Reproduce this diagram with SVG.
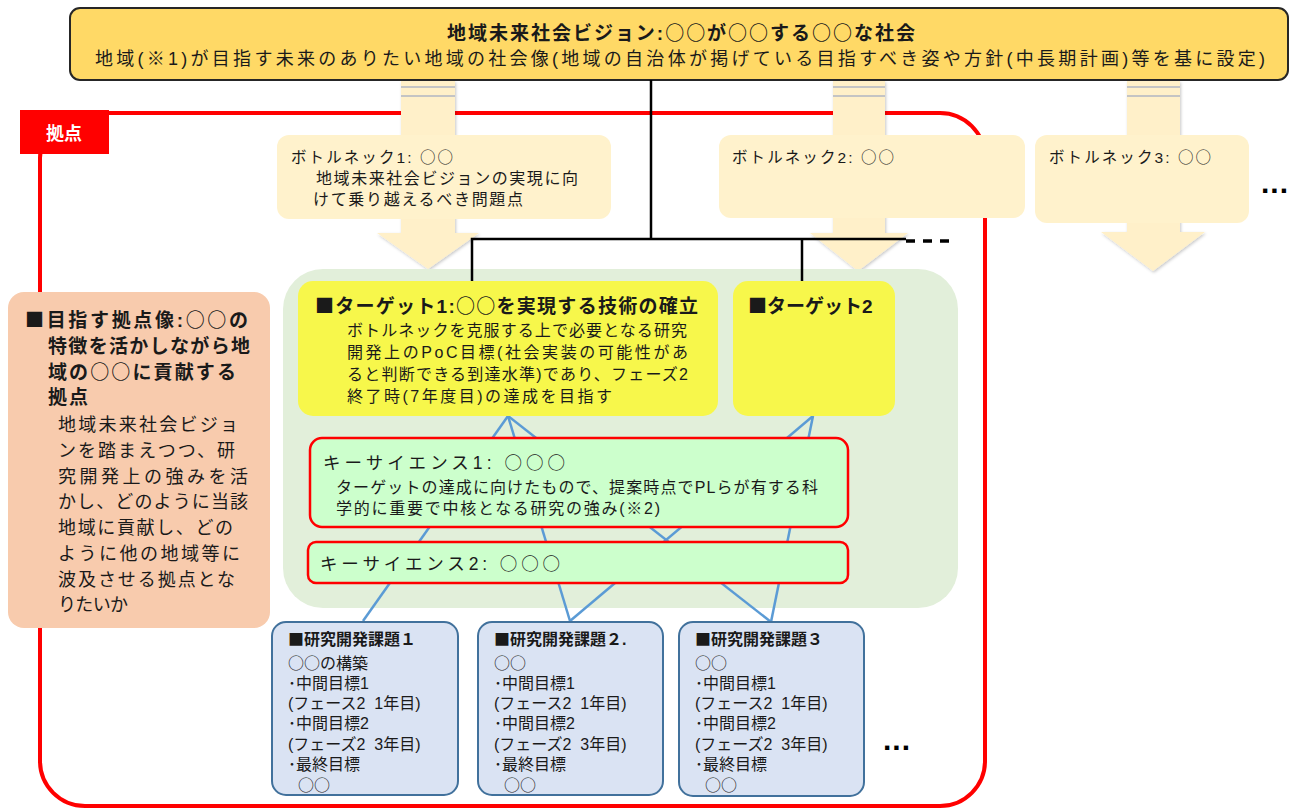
<svg xmlns="http://www.w3.org/2000/svg" width="1295" height="809" viewBox="0 0 1295 809">
<defs>
<style>
.t{font-family:"Liberation Sans","Noto Sans CJK JP",sans-serif;fill:#1a1a1a}
.b{font-weight:bold}
.cj{font-family:"Noto Sans CJK JP",sans-serif}
.arrow{fill:#fff0c9;filter:url(#sh)}
.stripe{stroke:#c4c4c4;stroke-width:2}
.bn{fill:#fff2cc}
.blk{stroke:#000;stroke-width:2.5;fill:none}
.blue{stroke:#5b9bd5;stroke-width:2.5;fill:none}
.ks{fill:#ccffcc;stroke:#ff0000;stroke-width:2.5}
.rd{fill:#dae3f3;stroke:#41719c;stroke-width:2}
.rt{font-family:"Liberation Sans","Noto Sans CJK JP",sans-serif;fill:#1a1a1a;font-size:16px}
.tg{fill:#f7f74b}
.dots{font-family:"Liberation Sans",sans-serif;font-weight:bold;font-size:30px;fill:#000;letter-spacing:1px}
</style>
<filter id="sh" x="-10%" y="-10%" width="130%" height="130%">
<feDropShadow dx="1" dy="1.5" stdDeviation="1.5" flood-color="#000" flood-opacity="0.22"/>
</filter>
</defs>

<g id="frame">
<rect x="40" y="113" width="945" height="693" rx="45" fill="none" stroke="#ff0000" stroke-width="4"/>
</g>

<g id="banner">
<rect x="70" y="8" width="1218" height="72" rx="10" fill="#ffd966" stroke="#262626" stroke-width="2"/>
<text class="t b" x="447" y="40" font-size="19" textLength="468" lengthAdjust="spacing">地域未来社会ビジョン:<tspan class="cj">○○</tspan>が<tspan class="cj">○○</tspan>する<tspan class="cj">○○</tspan>な社会</text>
<text class="t" x="95" y="65" font-size="18" textLength="1170" lengthAdjust="spacing">地域(※1)が目指す未来のありたい地域の社会像(地域の自治体が掲げている目指すべき姿や方針(中長期計画)等を基に設定)</text>
</g>

<g id="arrows">
<polygon class="arrow" points="401,81 455,81 455,233 479,233 428,269 377,233 401,233"/>
<line class="stripe" x1="401" y1="87" x2="455" y2="87"/>
<line class="stripe" x1="401" y1="96" x2="455" y2="96"/>
<polygon class="arrow" points="833,81 885,81 885,233 908,233 858,271 810,233 833,233"/>
<line class="stripe" x1="833" y1="87" x2="885" y2="87"/>
<line class="stripe" x1="833" y1="96" x2="885" y2="96"/>
<polygon class="arrow" points="1127,81 1180,81 1180,232 1205,232 1153,271 1101,232 1127,232"/>
<line class="stripe" x1="1127" y1="87" x2="1180" y2="87"/>
<line class="stripe" x1="1127" y1="96" x2="1180" y2="96"/>
</g>

<g id="label-kyoten">
<rect x="20" y="110" width="89" height="44" fill="#ff0000"/>
<text x="64" y="140" font-size="18" font-weight="bold" fill="#fff" text-anchor="middle" font-family="Liberation Sans, Noto Sans CJK JP, sans-serif">拠点</text>
</g>

<g id="bottleneck1">
<rect class="bn" x="277" y="135" width="334" height="84" rx="12"/>
<text class="t" x="291" y="163" font-size="15.5" textLength="162" lengthAdjust="spacing">ボトルネック1:  <tspan class="cj">○○</tspan></text>
<text class="t" x="316" y="184" font-size="16" textLength="262" lengthAdjust="spacing">地域未来社会ビジョンの実現に向</text>
<text class="t" x="313" y="205" font-size="16" textLength="210" lengthAdjust="spacing">けて乗り越えるべき問題点</text>
</g>

<g id="bottleneck2">
<rect class="bn" x="719" y="135" width="306" height="83" rx="12"/>
<text class="t" x="732" y="163" font-size="15.5" textLength="162" lengthAdjust="spacing">ボトルネック2:  <tspan class="cj">○○</tspan></text>
</g>

<g id="bottleneck3">
<rect class="bn" x="1035" y="135" width="214" height="88" rx="12"/>
<text class="t" x="1049" y="163" font-size="15.5" textLength="162" lengthAdjust="spacing">ボトルネック3:  <tspan class="cj">○○</tspan></text>
</g>

<g id="ellipses">
<text class="dots" x="1261" y="193">...</text>
<line x1="906" y1="241" x2="953" y2="241" stroke="#000" stroke-width="3.5" stroke-dasharray="9 8"/>
<text class="dots" x="912" y="402">...</text>
<text class="dots" x="883" y="750">...</text>
</g>

<g id="region">
<rect x="283" y="269" width="675" height="339" rx="40" fill="#e2efda"/>
</g>

<g id="connectors">
<polyline class="blk" points="651,80 651,239"/>
<polyline class="blk" points="472,282 472,239 906,239"/>
<polyline class="blk" points="802,239 802,282"/>
<line class="blue" x1="363" y1="621" x2="508" y2="416"/>
<line class="blue" x1="570" y1="621" x2="508" y2="416"/>
<line class="blue" x1="570" y1="621" x2="813" y2="416"/>
<line class="blue" x1="771" y1="622" x2="508" y2="416"/>
<line class="blue" x1="771" y1="622" x2="813" y2="416"/>
</g>

<g id="basis">
<rect x="8" y="292" width="262" height="336" rx="16" fill="#f8cbad"/>
<text class="t b" x="25" y="327" font-size="19" textLength="223" lengthAdjust="spacing"><tspan class="cj">■</tspan>目指す拠点像:<tspan class="cj">○○</tspan>の</text>
<text class="t b" x="48" y="353" font-size="19" textLength="202" lengthAdjust="spacing">特徴を活かしながら地</text>
<text class="t b" x="48" y="379" font-size="19" textLength="188" lengthAdjust="spacing">域の<tspan class="cj">○○</tspan>に貢献する</text>
<text class="t b" x="48" y="404" font-size="19" letter-spacing="2">拠点</text>
<text class="t" x="58" y="431" font-size="18" textLength="180" lengthAdjust="spacing">地域未来社会ビジョ</text>
<text class="t" x="58" y="457" font-size="18" textLength="177" lengthAdjust="spacing">ンを踏まえつつ、研</text>
<text class="t" x="58" y="483" font-size="18" textLength="190" lengthAdjust="spacing">究開発上の強みを活</text>
<text class="t" x="58" y="508" font-size="18" textLength="190" lengthAdjust="spacing">かし、どのように当該</text>
<text class="t" x="58" y="534" font-size="18" textLength="175" lengthAdjust="spacing">地域に貢献し、どの</text>
<text class="t" x="58" y="560" font-size="18" textLength="182" lengthAdjust="spacing">ように他の地域等に</text>
<text class="t" x="58" y="586" font-size="18" textLength="177" lengthAdjust="spacing">波及させる拠点とな</text>
<text class="t" x="58" y="611" font-size="18" textLength="70" lengthAdjust="spacing">りたいか</text>
</g>

<g id="target1">
<rect class="tg" x="298" y="281" width="420" height="135" rx="15"/>
<text class="t b" x="315" y="313" font-size="19" textLength="383" lengthAdjust="spacing"><tspan class="cj">■</tspan>ターゲット1:<tspan class="cj">○○</tspan>を実現する技術の確立</text>
<text class="t" x="347" y="336" font-size="16" textLength="340" lengthAdjust="spacing">ボトルネックを克服する上で必要となる研究</text>
<text class="t" x="347" y="358" font-size="16" textLength="341" lengthAdjust="spacing">開発上のPoC目標(社会実装の可能性があ</text>
<text class="t" x="347" y="380" font-size="16" textLength="341" lengthAdjust="spacing">ると判断できる到達水準)であり、フェーズ2</text>
<text class="t" x="347" y="402" font-size="16" textLength="265" lengthAdjust="spacing">終了時(7年度目)の達成を目指す</text>
</g>

<g id="target2">
<rect class="tg" x="733" y="281" width="162" height="135" rx="15"/>
<text class="t b" x="748" y="313" font-size="19"><tspan class="cj">■</tspan>ターゲット2</text>
</g>

<g id="keyscience1">
<rect class="ks" x="310" y="438" width="538" height="89" rx="12"/>
<text class="t" x="323" y="469" font-size="17.5" textLength="242" lengthAdjust="spacing">キーサイエンス1:  <tspan class="cj">○○○</tspan></text>
<text class="t" x="336" y="493" font-size="16" textLength="482" lengthAdjust="spacing">ターゲットの達成に向けたもので、提案時点でPLらが有する科</text>
<text class="t" x="336" y="514" font-size="16" textLength="324" lengthAdjust="spacing">学的に重要で中核となる研究の強み(※2)</text>
</g>

<g id="keyscience2">
<rect class="ks" x="308" y="542" width="540" height="41" rx="8"/>
<text class="t" x="320" y="570" font-size="17.5" textLength="240" lengthAdjust="spacing">キーサイエンス2:  <tspan class="cj">○○○</tspan></text>
</g>

<g id="rd1">
<rect class="rd" x="272" y="622" width="186" height="173" rx="14"/>
<text class="rt b" x="288" y="645"><tspan class="cj">■</tspan>研究開発課題１</text>
<text class="rt" x="288" y="669"><tspan class="cj">○○</tspan>の構築</text>
<text class="rt" x="288" y="689">･中間目標1</text>
<text class="rt" x="288" y="709">(フェース2&#160;&#160;1年目)</text>
<text class="rt" x="288" y="729">･中間目標2</text>
<text class="rt" x="288" y="750">(フェーズ2&#160;&#160;3年目)</text>
<text class="rt" x="288" y="770">･最終目標</text>
<text class="rt" x="298" y="791"><tspan class="cj">○○</tspan></text>
</g>

<g id="rd2">
<rect class="rd" x="478" y="622" width="185" height="173" rx="14"/>
<text class="rt b" x="494" y="645"><tspan class="cj">■</tspan>研究開発課題２.</text>
<text class="rt" x="494" y="669"><tspan class="cj">○○</tspan></text>
<text class="rt" x="494" y="689">･中間目標1</text>
<text class="rt" x="494" y="709">(フェース2&#160;&#160;1年目)</text>
<text class="rt" x="494" y="729">･中間目標2</text>
<text class="rt" x="494" y="750">(フェーズ2&#160;&#160;3年目)</text>
<text class="rt" x="494" y="770">･最終目標</text>
<text class="rt" x="504" y="791"><tspan class="cj">○○</tspan></text>
</g>

<g id="rd3">
<rect class="rd" x="679" y="622" width="185" height="174" rx="14"/>
<text class="rt b" x="695" y="645"><tspan class="cj">■</tspan>研究開発課題３</text>
<text class="rt" x="695" y="669"><tspan class="cj">○○</tspan></text>
<text class="rt" x="695" y="689">･中間目標1</text>
<text class="rt" x="695" y="709">(フェース2&#160;&#160;1年目)</text>
<text class="rt" x="695" y="729">･中間目標2</text>
<text class="rt" x="695" y="750">(フェーズ2&#160;&#160;3年目)</text>
<text class="rt" x="695" y="770">･最終目標</text>
<text class="rt" x="705" y="791"><tspan class="cj">○○</tspan></text>
</g>
</svg>
